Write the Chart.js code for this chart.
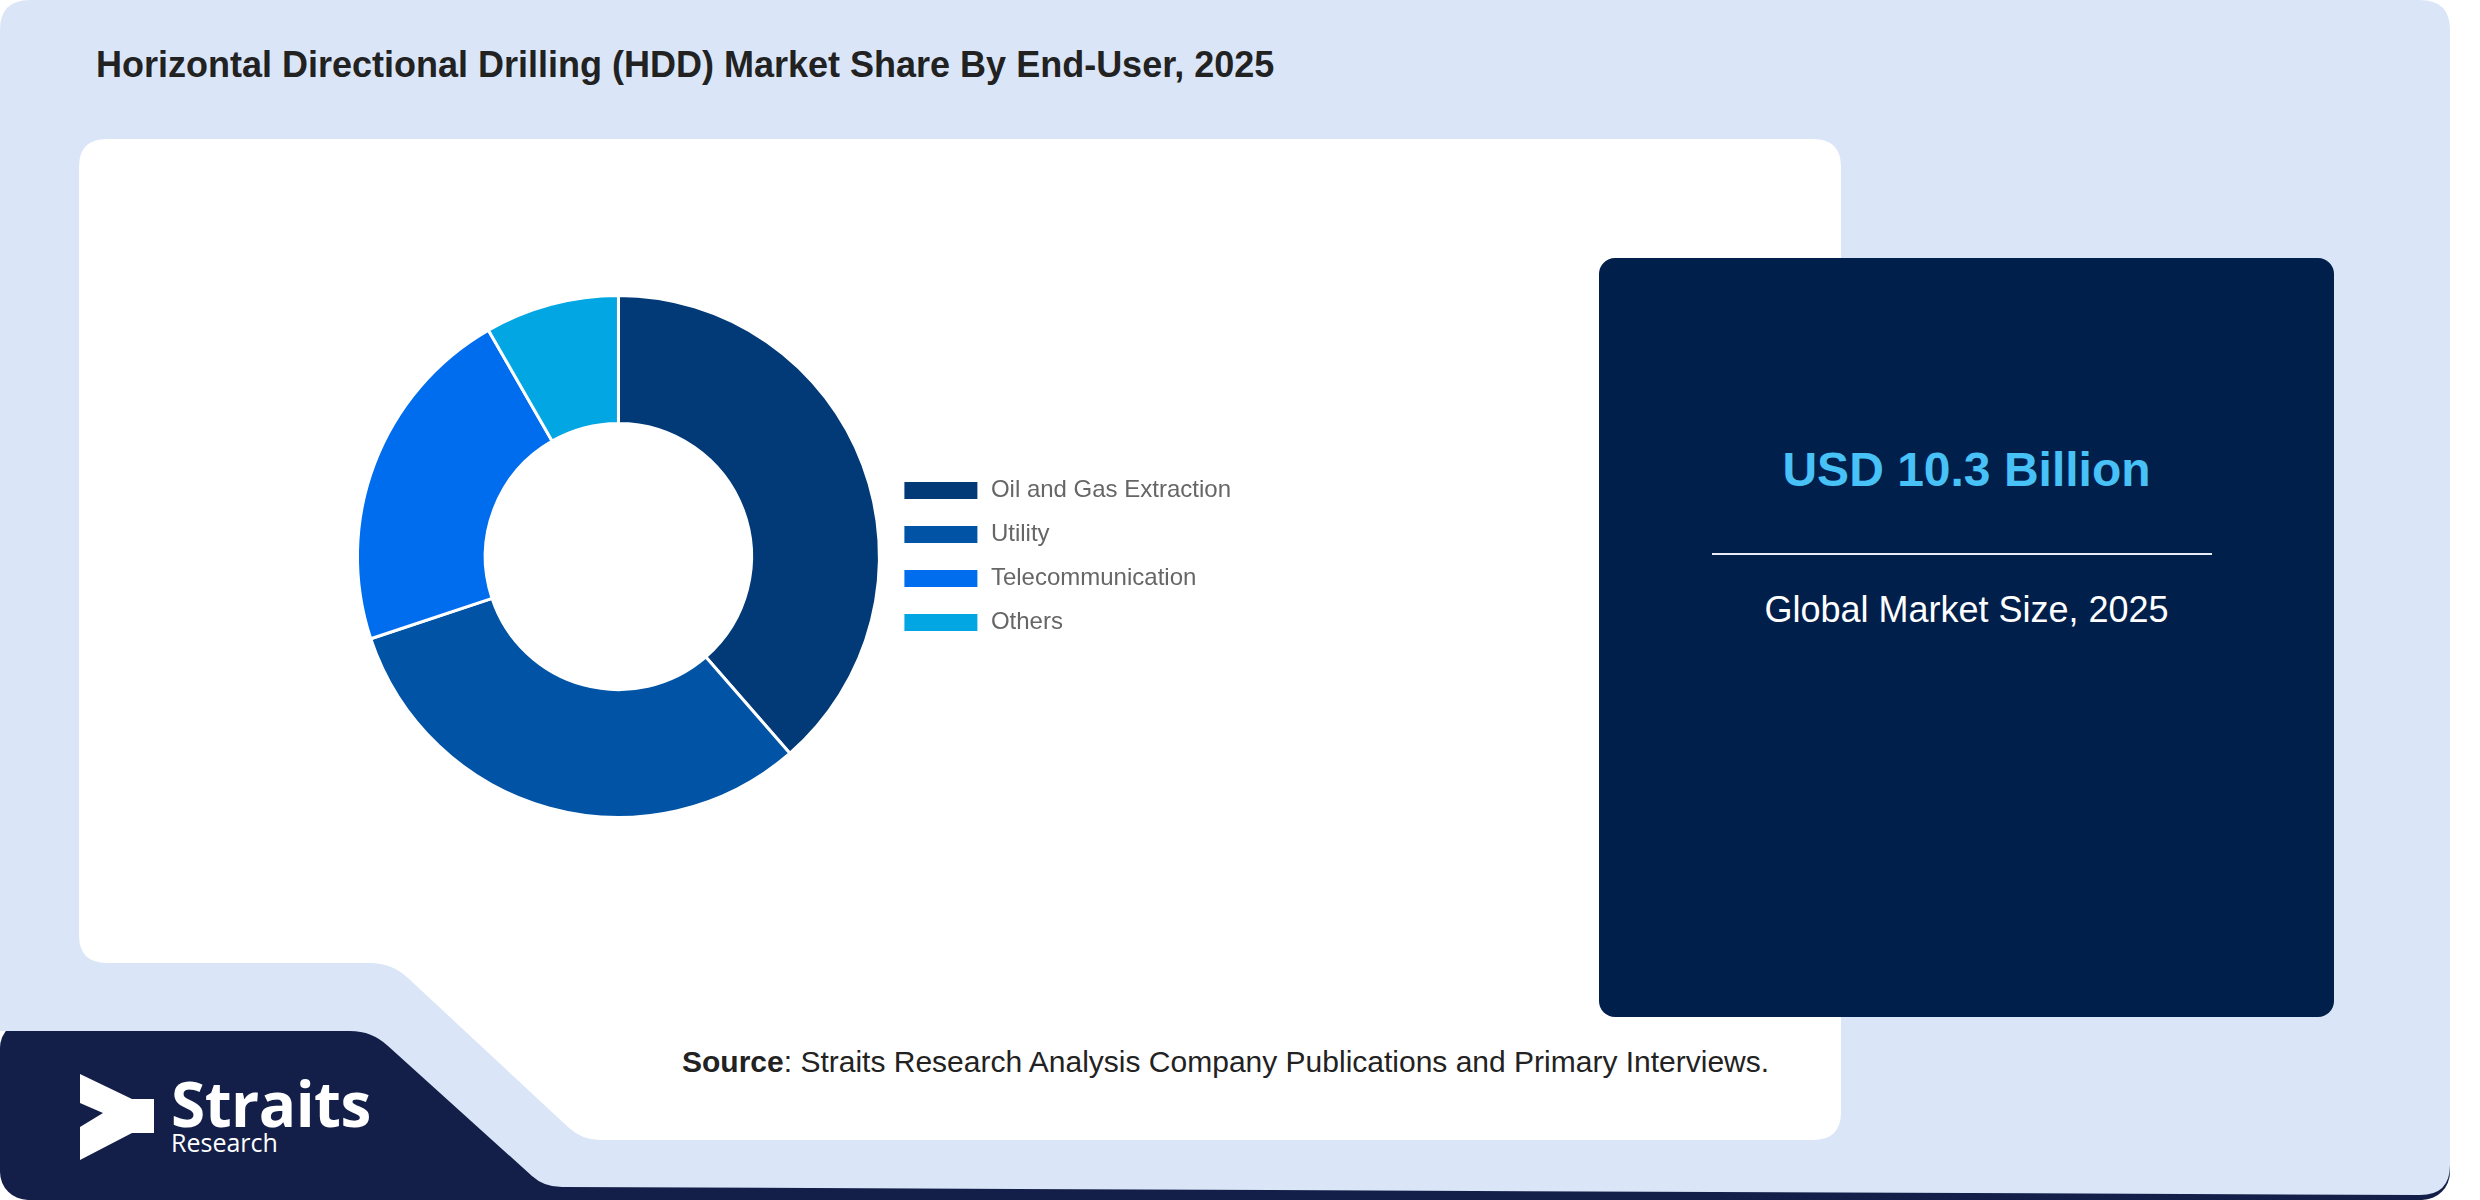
<!DOCTYPE html>
<html>
<head>
<meta charset="utf-8">
<title>HDD Market Share By End-User, 2025</title>
<script src="https://cdn.jsdelivr.net/npm/chart.js@4.4.1/dist/chart.umd.min.js"></script>
<style>
  html, body { margin: 0; padding: 0; background: #fff; }
  body { width: 2480px; height: 1200px; position: relative; overflow: hidden; font-family: "Liberation Sans", Arial, sans-serif; }
  .bg { position: absolute; left: 0; top: 0; }
  .txt { position: absolute; line-height: 1; white-space: nowrap; }
  .title { left: 96px; top: 47px; font-size: 36px; font-weight: bold; color: #222; }
  .card { position: absolute; left: 1599px; top: 258px; width: 735px; height: 759px; background: #011f4b; border-radius: 16px; }
  .usd { left: 1599px; width: 735px; top: 446px; text-align: center; font-size: 48px; font-weight: bold; color: #47c1f6; }
  .rule { position: absolute; left: 1712px; top: 553px; width: 500px; height: 2px; background: #e6edf5; }
  .size { left: 1599px; width: 735px; top: 592px; text-align: center; font-size: 36px; color: #fff; }
  .source { left: 682px; top: 1047px; font-size: 30px; color: #222; }
  /* logo words share one text node: the first line is the big bold name */
  .brand { left: 171px; top: 1075px; white-space: pre; font-family: "Open Sans", sans-serif; font-size: 25px; line-height: 22px; color: #fff; }
  .brand::first-line { font-size: 62px; font-weight: bold; line-height: 56px; letter-spacing: -0.5px; }
  #chart-box { position: absolute; left: 354px; top: 294px; width: 887px; height: 525px; }
</style>
</head>
<body>
<svg class="bg" width="2480" height="1200">
  <rect x="0" y="1020" width="2450" height="180" rx="28" fill="#131f48"/>
  <path d="M30,0 H2420 Q2450,0 2450,30 V1165 Q2450,1195 2420,1195 L565,1187 Q545,1188 532,1176 L388,1046 Q372,1031 350,1031 H0 V30 Q0,0 30,0 Z" fill="#dae6f8"/>
  <path d="M107,139 H1813 Q1841,139 1841,167 V1112 Q1841,1140 1813,1140 H600 Q582,1140 568,1127 L408,978 Q392,963 370,963 H107 Q79,963 79,935 V167 Q79,139 107,139 Z" fill="#ffffff"/>
  <polygon points="80,1074 132,1099 154,1099 154,1133 132,1133 80,1160 80,1127 103,1113 80,1103" fill="#ffffff"/>
</svg>

<div class="txt title">Horizontal Directional Drilling (HDD) Market Share By End-User, 2025</div>

<div id="chart-box"><canvas id="share-chart" width="887" height="525"></canvas></div>

<div class="card"></div>
<div class="txt usd">USD 10.3 Billion</div>
<div class="rule"></div>
<div class="txt size">Global Market Size, 2025</div>

<div class="txt source"><b>Source</b>: Straits Research Analysis Company Publications and Primary Interviews.</div>

<div class="txt brand">Straits
Research</div>

<script>
// end-user segments and their share of the 2025 market (%)
const endUsers = ['Oil and Gas Extraction', 'Utility', 'Telecommunication', 'Others'];
const shares = [38.6, 31.3, 21.8, 8.3];
const sliceColors = ['#023a77', '#0153a5', '#006def', '#02a6e3'];

const shareCtx = document.getElementById('share-chart').getContext('2d');

new Chart(shareCtx, {
  type: 'doughnut',
  data: {
    labels: endUsers,
    datasets: [
      {
        data: shares,
        backgroundColor: sliceColors,
        borderColor: '#ffffff',
        borderWidth: 3,
      },
    ],
  },
  options: {
    responsive: false,
    animation: false,
    devicePixelRatio: 1,
    cutout: '51%',
    layout: { padding: 0 },
    plugins: {
      tooltip: { enabled: false },
      legend: {
        position: 'right',
        labels: {
          boxWidth: 76,
          boxHeight: 20,
          padding: 20,
          color: '#666',
          font: { family: "'Liberation Sans', Arial, sans-serif", size: 24 },
        },
      },
    },
  },
});
</script>
</body>
</html>
